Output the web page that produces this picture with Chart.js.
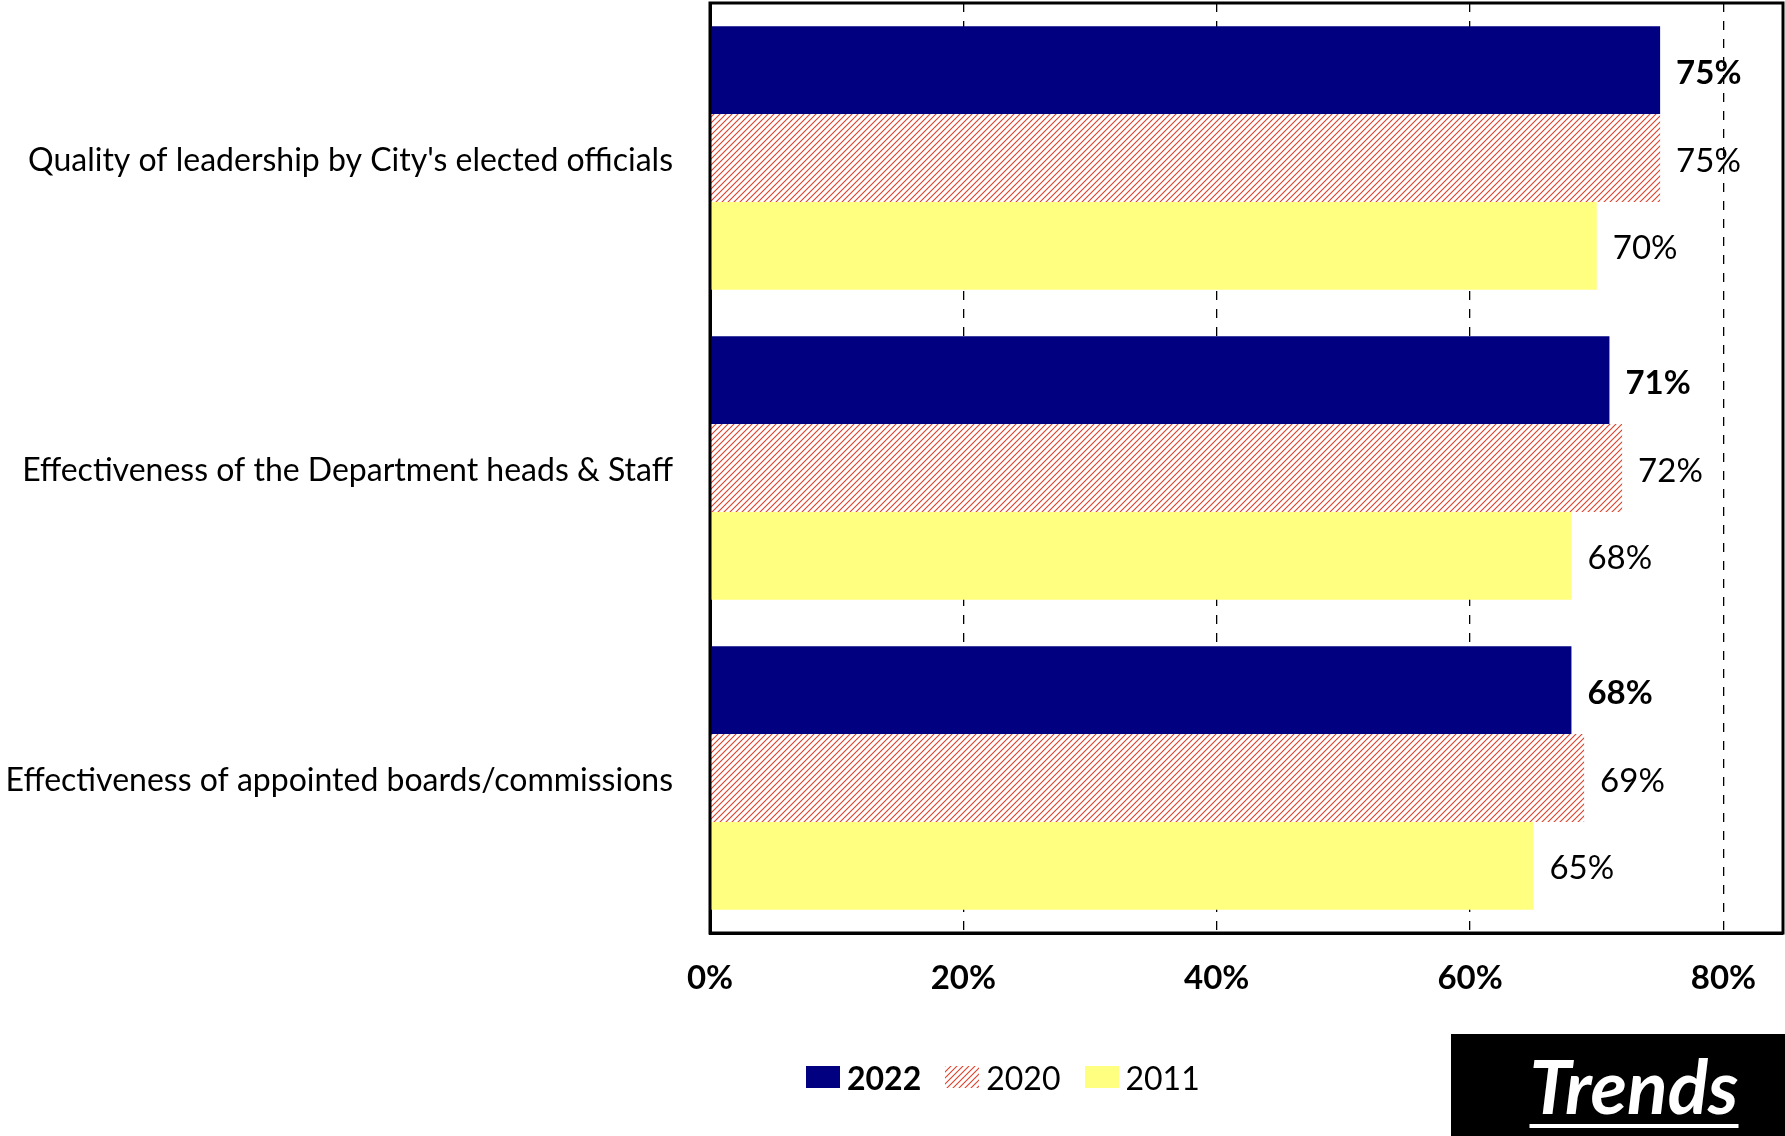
<!DOCTYPE html>
<html>
<head>
<meta charset="utf-8">
<script src="https://cdn.jsdelivr.net/npm/chart.js@4"></script>
<style>
  body { margin: 0; background: #fff; font-family: Lato, sans-serif; }
  #wrap { position: absolute; left: 0; top: 0; width: 1785px; height: 1136px; }
  #legend {
    position: absolute; left: 806px; top: 1060px; height: 34px;
    display: flex; align-items: center; font-size: 32px; color: #000;
  }
  #legend .item { display: flex; align-items: center; margin-right: 24px; }
  #legend canvas { width: 34px; height: 22px; margin-right: 7px; }
  #trends {
    position: absolute; left: 1451px; top: 1034px; width: 334px; height: 102px;
    background: #000; color: #fff; font: italic bold 75px Lato, sans-serif;
    display: flex; align-items: center; justify-content: center;
    box-sizing: border-box; padding-left: 32px;
    text-decoration: underline; text-decoration-thickness: 4px; text-underline-offset: 10px;
  }
</style>
</head>
<body>
<div id="wrap"><canvas id="chart" width="1785" height="1136"></canvas></div>
<div id="legend"></div>
<div id="trends">Trends</div>
<script>
// ---------- 데이터 ----------
const categories = [
  "Quality of leadership by City's elected officials",
  'Effectiveness of the Department heads & Staff',
  'Effectiveness of appointed boards/commissions',
];
const years = ['2022', '2020', '2011'];
const values2022 = [75, 71, 68];
const values2020 = [75, 72, 69];
const values2011 = [70, 68, 65];
const xTicks = [0, 20, 40, 60, 80];

const navy = '#000080';
const hatchRed = '#E0402A';
const yellow = '#FFFF80';

// 2020 빗금 패턴
function makeHatch(ctx) {
  const size = 6;
  const c = document.createElement('canvas');
  c.width = size;
  c.height = size;
  const g = c.getContext('2d');
  g.fillStyle = '#fff';
  g.fillRect(0, 0, size, size);
  g.strokeStyle = hatchRed;
  g.lineWidth = 1.1;
  g.beginPath();
  g.moveTo(-1, size + 1);
  g.lineTo(size + 1, -1);
  g.moveTo(-1, 1);
  g.lineTo(1, -1);
  g.moveTo(size - 1, size + 1);
  g.lineTo(size + 1, size - 1);
  g.stroke();
  return ctx.createPattern(c, 'repeat');
}

const ctx = document.getElementById('chart').getContext('2d');
const hatch = makeHatch(ctx);

const seriesStyles = [
  { data: values2022, fill: navy, bold: true },
  { data: values2020, fill: hatch, bold: false },
  { data: values2011, fill: yellow, bold: false },
];

// 막대 끝에 값 표시
const valueLabels = {
  id: 'valueLabels',
  afterDatasetsDraw(chart) {
    const c = chart.ctx;
    c.save();
    c.fillStyle = '#000';
    c.textBaseline = 'middle';
    chart.data.datasets.forEach((ds, i) => {
      c.font = (seriesStyles[i].bold ? 'bold ' : '') + '33px Lato, sans-serif';
      chart.getDatasetMeta(i).data.forEach((bar, j) => {
        c.fillText(ds.data[j] + '%', bar.x + 16, bar.y + 3);
      });
    });
    c.restore();
  },
};

// 플롯 영역 테두리
const plotBorder = {
  id: 'plotBorder',
  afterDraw(chart) {
    const a = chart.chartArea;
    const c = chart.ctx;
    c.save();
    c.strokeStyle = '#000';
    c.lineWidth = 3;
    c.strokeRect(a.left, a.top, a.right - a.left, a.bottom - a.top);
    c.restore();
  },
};

const data = {
  labels: categories,
  datasets: years.map((y, i) => ({
    label: y,
    data: seriesStyles[i].data,
    backgroundColor: seriesStyles[i].fill,
    borderWidth: 0,
    categoryPercentage: 0.85,
    barPercentage: 1.0,
  })),
};

const config = {
  type: 'bar',
  data: data,
  options: {
    indexAxis: 'y',
    responsive: false,
    animation: false,
    layout: { padding: { top: 3, right: 2, left: 0, bottom: 0 } },
    scales: {
      x: {
        min: 0,
        max: 84.7,
        afterFit: (scale) => {
          scale.height = 203;
          scale.paddingLeft = 0;
          scale.paddingRight = 0;
        },
        afterBuildTicks: (scale) => {
          scale.ticks = xTicks.map((v) => ({ value: v }));
        },
        ticks: {
          includeBounds: false,
          padding: 26,
          color: '#000',
          font: { family: 'Lato', size: 33, weight: 'bold' },
          callback: (v) => v + '%',
        },
        grid: {
          drawTicks: false,
          color: (c) => (c.tick && c.tick.value === 0 ? 'transparent' : '#000'),
          lineWidth: 1.3,
        },
        border: { display: true, color: '#000', width: 3, dash: [9, 9] },
      },
      y: {
        afterFit: (scale) => {
          scale.width = 710;
          // 라벨 높이만큼 위아래 여백이 생기지 않도록
          scale.paddingTop = 0;
          scale.paddingBottom = 0;
        },
        ticks: {
          padding: 37,
          labelOffset: 3,
          color: '#000',
          font: { family: 'Lato', size: 32 },
        },
        grid: { display: false, drawTicks: false },
        border: { display: true, color: '#000', width: 3 },
      },
    },
    plugins: {
      legend: { display: false },
      title: { display: false },
      tooltip: { enabled: false },
    },
  },
  plugins: [valueLabels, plotBorder],
};

const chart = new Chart(ctx, config);

// 범례 생성
const legendEl = document.getElementById('legend');
years.forEach((y, i) => {
  const item = document.createElement('div');
  item.className = 'item';
  const sw = document.createElement('canvas');
  sw.width = 34;
  sw.height = 22;
  const sctx = sw.getContext('2d');
  sctx.fillStyle = i === 1 ? makeHatch(sctx) : seriesStyles[i].fill;
  sctx.fillRect(0, 0, 34, 22);
  const txt = document.createElement('span');
  txt.textContent = y;
  if (seriesStyles[i].bold) txt.style.fontWeight = 'bold';
  item.appendChild(sw);
  item.appendChild(txt);
  legendEl.appendChild(item);
});
</script>
</body>
</html>
